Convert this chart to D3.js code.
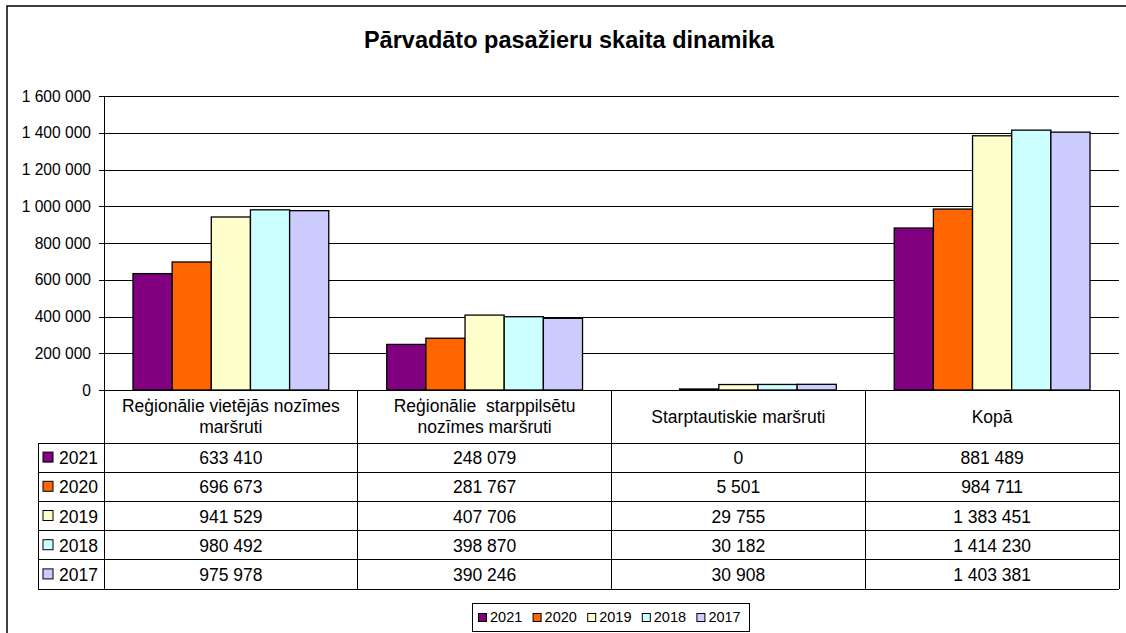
<!DOCTYPE html>
<html>
<head>
<meta charset="utf-8">
<script src="https://cdn.jsdelivr.net/npm/d3@7"></script>
<style>
  body { margin: 0; background: #fff; }
  svg text { font-family: 'Liberation Sans', Arial, sans-serif; fill: #000; white-space: pre; }
</style>
</head>
<body>
<div id="chart"></div>
<script>
const categories = ['Reģionālie vietējās nozīmes maršruti', 'Reģionālie  starppilsētu nozīmes maršruti', 'Starptautiskie maršruti', 'Kopā']
const categoryLines = [['Reģionālie vietējās nozīmes', 'maršruti'], ['Reģionālie  starppilsētu', 'nozīmes maršruti'], ['Starptautiskie maršruti'], ['Kopā']]
const years = ['2021', '2020', '2019', '2018', '2017']
const colors = ['#800080', '#ff6600', '#ffffcc', '#ccffff', '#ccccff']
const values2021 = [633410, 248079, 0, 881489]
const values2020 = [696673, 281767, 5501, 984711]
const values2019 = [941529, 407706, 29755, 1383451]
const values2018 = [980492, 398870, 30182, 1414230]
const values2017 = [975978, 390246, 30908, 1403381]
const yTicks = [0, 200000, 400000, 600000, 800000, 1000000, 1200000, 1400000, 1600000]

const series = [values2021, values2020, values2019, values2018, values2017]
  .map((vals, i) => ({ year: years[i], color: colors[i], values: vals }))

const width = 1126
const height = 633
const plot = { left: 104, right: 1119, top: 96, bottom: 390 }
const table = { legendLeft: 38, headerBottom: 443, rowH: 29.2 }
const tableFont = 17.5

const locale = d3.formatLocale({ decimal: ',', thousands: ' ', grouping: [3], currency: ['', ''] })
const fmt = locale.format(',d')

const svg = d3.select('#chart').append('svg')
  .attr('width', width)
  .attr('height', height)

// chart border (runs past the window on the right and bottom)
svg.append('rect')
  .attr('x', 7).attr('y', 6)
  .attr('width', 1140).attr('height', 660)
  .attr('fill', '#fff').attr('stroke', '#000').attr('stroke-width', 1.5)

svg.append('text')
  .attr('x', 569).attr('y', 48)
  .attr('text-anchor', 'middle')
  .attr('font-size', 23.5).attr('font-weight', 'bold')
  .text('Pārvadāto pasažieru skaita dinamika')

const y = d3.scaleLinear().domain([0, 1600000]).range([plot.bottom, plot.top])
const x0 = d3.scaleBand().domain(categories).range([plot.left, plot.right])
const x1 = d3.scaleBand().domain(years).range([0, x0.bandwidth()]).paddingOuter(0.74)

// gridlines
svg.append('g')
  .attr('transform', `translate(${plot.left},0)`)
  .call(d3.axisLeft(y).tickValues(yTicks).tickSize(-(plot.right - plot.left)).tickFormat(''))
  .call(g => g.select('.domain').remove())
  .call(g => g.selectAll('line').attr('stroke', '#000').attr('shape-rendering', 'crispEdges'))

// y axis
svg.append('g')
  .attr('transform', `translate(${plot.left},0)`)
  .call(d3.axisLeft(y).tickValues(yTicks).tickSizeInner(5).tickSizeOuter(0).tickPadding(8).tickFormat(fmt))
  .call(g => g.select('.domain').attr('stroke', '#000').attr('shape-rendering', 'crispEdges'))
  .call(g => g.selectAll('line').attr('stroke', '#000').attr('shape-rendering', 'crispEdges'))
  .call(g => g.selectAll('text').attr('font-size', 15.6).attr('font-family', "'Liberation Sans', Arial, sans-serif"))

// bars
svg.append('g')
  .selectAll('g')
  .data(series)
  .join('g')
  .attr('fill', d => d.color)
  .selectAll('rect')
  .data(d => d.values.map((v, i) => ({ year: d.year, cat: categories[i], value: v })))
  .join('rect')
  .attr('x', d => x0(d.cat) + x1(d.year))
  .attr('y', d => y(d.value))
  .attr('width', x1.bandwidth())
  .attr('height', d => y(0) - y(d.value))
  .attr('stroke', '#000')
  .attr('stroke-width', 1.3)

// data table
const tableBottom = table.headerBottom + table.rowH * years.length
const tg = svg.append('g').attr('stroke', '#000').attr('stroke-width', 1).attr('shape-rendering', 'crispEdges')
x0.domain().concat(['end']).forEach((c, i) => {
  const xx = i < categories.length ? x0(c) : plot.right
  tg.append('line').attr('x1', xx).attr('x2', xx).attr('y1', plot.bottom).attr('y2', tableBottom)
})
tg.append('line').attr('x1', table.legendLeft).attr('x2', table.legendLeft)
  .attr('y1', table.headerBottom).attr('y2', tableBottom)
d3.range(years.length + 1).forEach(i => {
  const yy = table.headerBottom + i * table.rowH
  tg.append('line').attr('x1', table.legendLeft).attr('x2', plot.right).attr('y1', yy).attr('y2', yy)
})
tg.append('line').attr('x1', plot.left).attr('x2', plot.right).attr('y1', plot.bottom).attr('y2', plot.bottom)

// category headers
const headerMid = (plot.bottom + table.headerBottom) / 2
categories.forEach((c, i) => {
  const lines = categoryLines[i]
  svg.append('text')
    .attr('text-anchor', 'middle')
    .attr('font-size', tableFont)
    .selectAll('tspan')
    .data(lines)
    .join('tspan')
    .attr('x', x0(c) + x0.bandwidth() / 2)
    .attr('y', (d, k) => headerMid + 6 + (k - (lines.length - 1) / 2) * 21)
    .text(d => d)
})

// table rows
series.forEach((s, r) => {
  const mid = table.headerBottom + table.rowH * (r + 0.5)
  svg.append('rect')
    .attr('x', 43).attr('y', mid - 5.5)
    .attr('width', 10).attr('height', 10)
    .attr('fill', s.color).attr('stroke', '#000')
  svg.append('text')
    .attr('x', 59).attr('y', mid + 6.5)
    .attr('font-size', tableFont)
    .text(s.year)
  s.values.forEach((v, i) => {
    svg.append('text')
      .attr('x', x0(categories[i]) + x0.bandwidth() / 2)
      .attr('y', mid + 6.5)
      .attr('text-anchor', 'middle')
      .attr('font-size', tableFont)
      .text(fmt(v))
  })
})

// legend
const legend = svg.append('g')
legend.append('rect')
  .attr('x', 472.5).attr('y', 603.5)
  .attr('width', 277).attr('height', 28)
  .attr('fill', '#fff').attr('stroke', '#000')
const items = legend.selectAll('g.item')
  .data(series)
  .join('g')
  .attr('class', 'item')
  .attr('transform', (d, i) => `translate(${478 + i * 54.6}, 0)`)
items.append('rect')
  .attr('x', 0.5).attr('y', 613.5)
  .attr('width', 8).attr('height', 8)
  .attr('fill', d => d.color).attr('stroke', '#000')
items.append('text')
  .attr('x', 12).attr('y', 622)
  .attr('font-size', 14.5)
  .text(d => d.year)
</script>
</body>
</html>
